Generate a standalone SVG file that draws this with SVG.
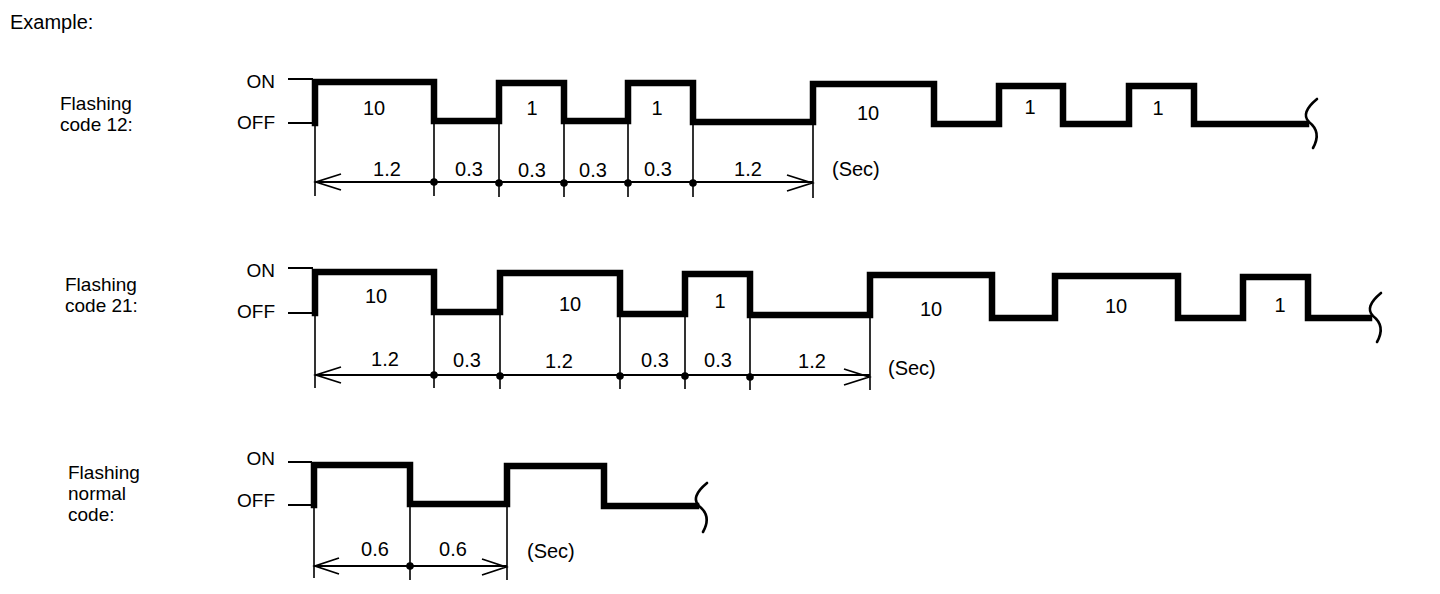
<svg xmlns="http://www.w3.org/2000/svg" width="1440" height="594" viewBox="0 0 1440 594">
<style>
text{font-family:"Liberation Sans",Arial,sans-serif;fill:#000}
.lbl{font-size:19px}
.ttl{font-size:20px}
.lv{font-size:19px;text-anchor:end}
.num{font-size:20px;text-anchor:middle}
.wave{fill:none;stroke:#000;stroke-width:6.5;stroke-linejoin:miter;stroke-linecap:square}
.ref{fill:none;stroke:#000;stroke-width:2}
.ext{fill:none;stroke:#000;stroke-width:1.6}
.dim{fill:none;stroke:#000;stroke-width:1.8}
.sq{fill:none;stroke:#000;stroke-width:2.6;stroke-linecap:round}
.dot{fill:#000}
</style>
<defs>
<path id="squig" d="M8,-23 Q-9,-9 0,0 Q13,10 4,26"/>
</defs>

<text class="ttl" x="10" y="29">Example:</text>

<g id="row-code12">
<text class="lbl" x="60" y="110">Flashing</text>
<text class="lbl" x="60" y="131">code 12:</text>
<text class="lv" x="275" y="88">ON</text>
<text class="lv" x="275" y="129">OFF</text>
<path class="ref" d="M288,79 H313 M288,123 H313"/>
<path class="wave" d="M315,123 V82 H434 V121 H499 V83 H564 V121 H628 V83 H693 V122 H813 V84 H934 V124 H999 V86 H1063 V124 H1129 V86 H1194 V124 H1306"/>
<use href="#squig" class="sq" x="1309" y="122"/>
<text class="num" x="374" y="115">10</text>
<text class="num" x="532" y="115">1</text>
<text class="num" x="657" y="115">1</text>
<text class="num" x="868" y="120">10</text>
<text class="num" x="1030" y="114">1</text>
<text class="num" x="1158" y="115">1</text>
<text class="num" x="387" y="176">1.2</text>
<text class="num" x="469" y="176">0.3</text>
<text class="num" x="532" y="177">0.3</text>
<text class="num" x="593" y="177">0.3</text>
<text class="num" x="658" y="176">0.3</text>
<text class="num" x="748" y="176">1.2</text>
<text class="ttl" x="832" y="176">(Sec)</text>
</g>

<g id="row-code21">
<text class="lbl" x="65" y="291">Flashing</text>
<text class="lbl" x="65" y="312">code 21:</text>
<text class="lv" x="275" y="277">ON</text>
<text class="lv" x="275" y="318">OFF</text>
<path class="ref" d="M288,268 H313 M288,313 H313"/>
<path class="wave" d="M315,313 V272 H434 V312 H500 V273 H620 V314 H685 V274 H750 V315 H870 V275 H992 V318 H1055 V276 H1178 V318 H1243 V277 H1308 V318 H1369"/>
<use href="#squig" class="sq" x="1373" y="316"/>
<text class="num" x="376" y="303">10</text>
<text class="num" x="570" y="311">10</text>
<text class="num" x="720" y="308">1</text>
<text class="num" x="931" y="316">10</text>
<text class="num" x="1116" y="313">10</text>
<text class="num" x="1280" y="312">1</text>
<text class="num" x="385" y="366">1.2</text>
<text class="num" x="467" y="367">0.3</text>
<text class="num" x="559" y="368">1.2</text>
<text class="num" x="655" y="367">0.3</text>
<text class="num" x="718" y="367">0.3</text>
<text class="num" x="812" y="368">1.2</text>
<text class="ttl" x="888" y="375">(Sec)</text>
</g>

<g id="row-normal">
<text class="lbl" x="68" y="479">Flashing</text>
<text class="lbl" x="68" y="500">normal</text>
<text class="lbl" x="68" y="521">code:</text>
<text class="lv" x="275" y="465">ON</text>
<text class="lv" x="275" y="507">OFF</text>
<path class="ref" d="M288,462 H312 M288,505 H312"/>
<path class="wave" d="M314,505 V465 H410 V504 H507 V466 H604 V506 H696"/>
<use href="#squig" class="sq" x="699" y="506"/>
<text class="num" x="375" y="556">0.6</text>
<text class="num" x="453" y="556">0.6</text>
<text class="ttl" x="527" y="558">(Sec)</text>
</g>

<g id="connectors">
<path class="ext" d="M315,123 V196 M434,122 V196 M499,122 V197 M564,122 V197 M628,122 V197 M693,123 V197 M813,123 V198"/>
<path class="dim" d="M315,182 H813"/>
<path class="dim" d="M341,174 L316,182 L341,190 M787,175 L812,183 L787,191"/>
<circle class="dot" cx="434" cy="182" r="3.8"/>
<circle class="dot" cx="499" cy="183" r="3.8"/>
<circle class="dot" cx="564" cy="183" r="3.8"/>
<circle class="dot" cx="628" cy="183" r="3.8"/>
<circle class="dot" cx="693" cy="183" r="3.8"/>
<path class="ext" d="M315,313 V388 M434,313 V388 M500,313 V389 M620,315 V389 M685,315 V389 M750,316 V390 M870,316 V390"/>
<path class="dim" d="M315,375 H870"/>
<path class="dim" d="M341,367 L316,375 L341,383 M844,369 L869,377 L844,385"/>
<circle class="dot" cx="434" cy="375" r="3.8"/>
<circle class="dot" cx="500" cy="376" r="3.8"/>
<circle class="dot" cx="620" cy="376" r="3.8"/>
<circle class="dot" cx="685" cy="376" r="3.8"/>
<circle class="dot" cx="750" cy="377" r="3.8"/>
<path class="ext" d="M314,505 V578 M410,505 V580 M507,505 V580"/>
<path class="dim" d="M314,566 H507"/>
<path class="dim" d="M339,558 L315,566 L339,574 M482,559 L506,567 L482,575"/>
<circle class="dot" cx="410" cy="566" r="3.8"/>
</g>
</svg>
